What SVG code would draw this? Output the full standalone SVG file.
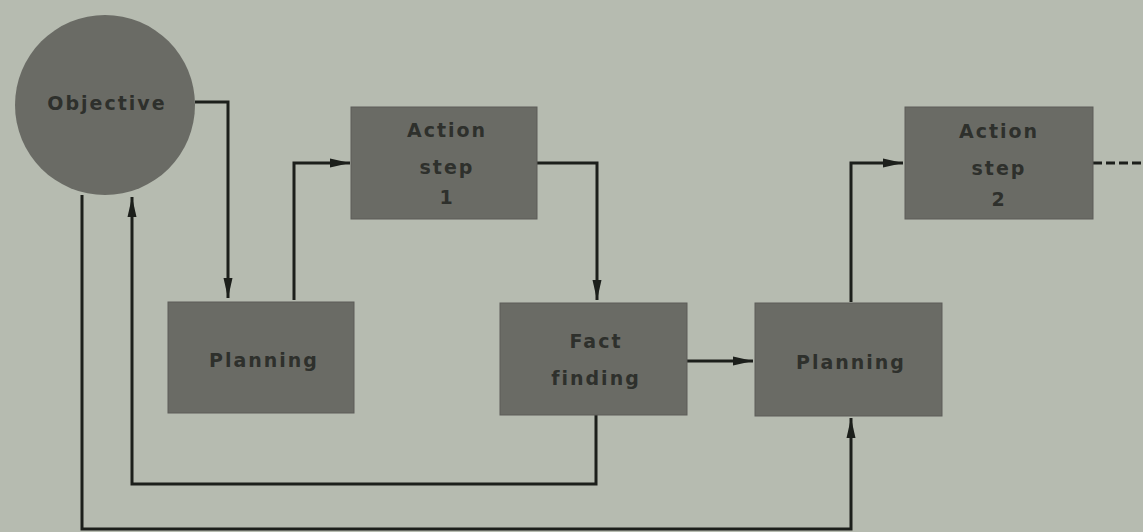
<svg xmlns="http://www.w3.org/2000/svg" width="1143" height="532" viewBox="0 0 1143 532">
<defs>
<marker id="arr" viewBox="0 0 20 10" refX="20" refY="5" markerWidth="20" markerHeight="10" markerUnits="userSpaceOnUse" orient="auto">
<path d="M0,0.5 L20,5 L0,9.5 Z" fill="#1c1f1b"/>
</marker>
<style>
.bg{fill:#b6bbb0}
.node{fill:#6a6b65;stroke:#5c5d58;stroke-width:1}
.lbl{font-family:"DejaVu Sans","Liberation Sans",sans-serif;font-size:19px;font-weight:bold;fill:#2e302c;text-anchor:middle;letter-spacing:2px}
.ln{fill:none;stroke:#1c1f1b;stroke-width:3}
.ar{marker-end:url(#arr)}
.dash{stroke-dasharray:9 4}
</style>
</defs>
<rect class="bg" x="0" y="0" width="1143" height="532"/>
<g id="connectors">
<path class="ln ar" d="M195,102 H228 V298"/>
<path class="ln ar" d="M294,300 V163 H350"/>
<path class="ln ar" d="M537,163 H597 V300"/>
<path class="ln ar" d="M687,361 H753"/>
<path class="ln ar" d="M851,302 V163 H903"/>
<path class="ln dash" d="M1093,163 H1143"/>
<path class="ln ar" d="M596,415 V484 H132 V197"/>
<path class="ln ar" d="M82,195 V529 H851 V418"/>
</g>
<g id="objective">
<circle cx="105" cy="105" r="90" fill="#6a6b65"/>
<text class="lbl" x="107" y="110">Objective</text>
</g>
<g id="planning1">
<rect class="node" x="168" y="302" width="186" height="111"/>
<text class="lbl" x="264" y="367">Planning</text>
</g>
<g id="action1">
<rect class="node" x="351" y="107" width="186" height="112"/>
<text class="lbl" x="447" y="137">Action</text>
<text class="lbl" x="447" y="174">step</text>
<text class="lbl" x="447" y="204">1</text>
</g>
<g id="factfinding">
<rect class="node" x="500" y="303" width="187" height="112"/>
<text class="lbl" x="596" y="348">Fact</text>
<text class="lbl" x="596" y="385">finding</text>
</g>
<g id="planning2">
<rect class="node" x="755" y="303" width="187" height="113"/>
<text class="lbl" x="851" y="369">Planning</text>
</g>
<g id="action2">
<rect class="node" x="905" y="107" width="188" height="112"/>
<text class="lbl" x="999" y="138">Action</text>
<text class="lbl" x="999" y="175">step</text>
<text class="lbl" x="999" y="206">2</text>
</g>
</svg>
